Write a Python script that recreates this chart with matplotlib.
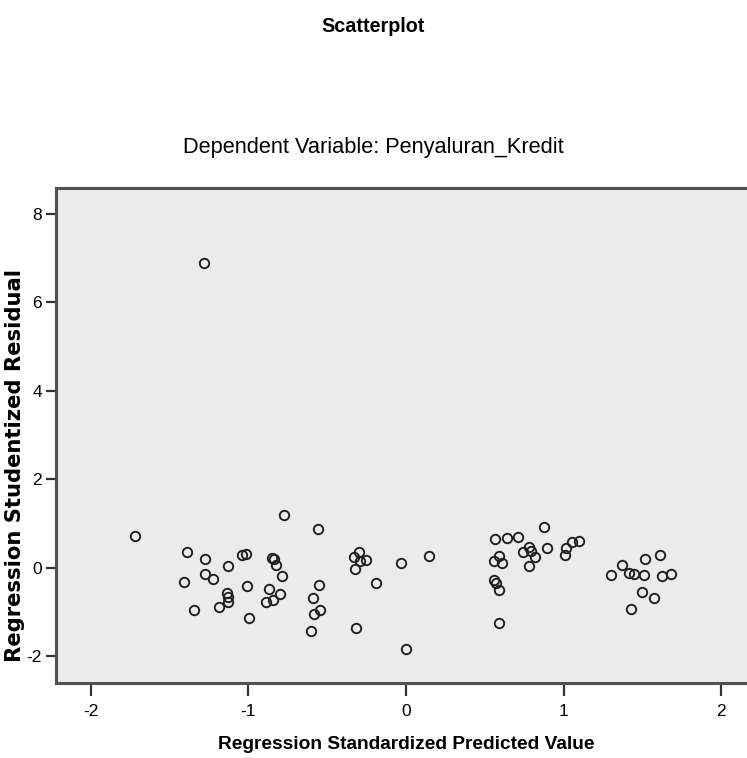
import matplotlib
matplotlib.use('Agg')
import matplotlib.pyplot as plt

# regression standardized predicted value vs studentized residual
pred = [-1.718, -1.284, -0.772, -0.561, -1.386, -1.275, -1.129, -1.043, -1.013, -0.850,
        -0.840, -0.823, -0.787, -1.405, -1.272, -1.223, -1.011, -1.136, -1.129, -1.128,
        -0.867, -0.800, -0.888, -0.842, -1.343, -1.187, -0.999, -0.593, -0.552, -0.582,
        -0.548, -0.601, -0.301, -0.332, -0.256, -0.322, -0.290, -0.034, 0.143, -0.190,
        -0.315, 0.000, 0.565, 0.638, 0.708, 0.782, 0.740, 0.795, 0.820, 0.778,
        0.592, 0.560, 0.607, 0.556, 0.573, 0.588, 0.590, 0.878, 0.895, 1.015,
        1.011, 1.051, 1.095, 1.301, 1.371, 1.417, 1.444, 1.514, 1.512, 1.614,
        1.626, 1.679, 1.499, 1.571, 1.425]
resid = [0.72, 6.88, 1.20, 0.88, 0.35, 0.19, 0.05, 0.30, 0.32, 0.23,
         0.20, 0.06, -0.19, -0.31, -0.14, -0.25, -0.41, -0.56, -0.66, -0.76,
         -0.47, -0.59, -0.77, -0.72, -0.96, -0.88, -1.13, -0.67, -0.39, -1.05,
         -0.95, -1.42, 0.35, 0.24, 0.18, -0.02, 0.16, 0.11, 0.26, -0.34,
         -1.35, -1.84, 0.65, 0.68, 0.70, 0.48, 0.36, 0.39, 0.25, 0.04,
         0.27, 0.16, 0.11, -0.27, -0.35, -0.50, -1.24, 0.92, 0.44, 0.44,
         0.28, 0.59, 0.61, -0.15, 0.07, -0.11, -0.13, 0.20, -0.15, 0.30,
         -0.18, -0.14, -0.55, -0.68, -0.93]

xticks = [-2, -1, 0, 1, 2]
yticks = [-2, 0, 2, 4, 6, 8]

sans = ['Liberation Sans', 'DejaVu Sans']

fig = plt.figure(figsize=(7.47, 7.58), dpi=100)
ax = fig.add_axes([56 / 747, 1 - 683 / 758, 700 / 747, 495 / 758])
ax.set_facecolor('#ebebeb')

ax.plot(pred, resid, linestyle='none', marker='o', markersize=6.8,
        markerfacecolor='none', markeredgecolor='#1e1e1e', markeredgewidth=1.35)

ax.set_xlim(-2.22, 2.22)
ax.set_ylim(-2.6, 8.58)
ax.set_xticks(xticks)
ax.set_yticks(yticks)
ax.set_xticklabels([str(t) for t in xticks], family=sans, fontsize=12.5)
ax.set_yticklabels([str(t) for t in yticks], family=sans, fontsize=12.5)
ax.tick_params(axis='both', direction='out', length=7, width=1.6, color='#333333', pad=3)
ax.tick_params(axis='x', length=9, pad=6)

for side in ['top', 'left', 'bottom']:
    ax.spines[side].set_linewidth(2.2)
    ax.spines[side].set_color('#505050')
ax.spines['right'].set_visible(False)
# lighter shade just under the top frame line
ax.axhline(8.58, color='#a0a0a0', linewidth=1.2, clip_on=False)

ax.set_xlabel('Regression Standardized Predicted Value', family=sans,
              fontsize=13.8, fontweight='bold')
ax.xaxis.set_label_coords(0.5, -0.125)
ax.xaxis.label.set_va('center')
ax.set_ylabel('Regression Studentized Residual', fontsize=15.2, fontweight='bold')
ax.yaxis.set_label_coords(-0.058, 0.44)
ax.yaxis.label.set_va('center')

fig.text(0.5, 1 - 27 / 758, 'Scatterplot', family=sans, fontsize=14.2,
         fontweight='bold', ha='center', va='center')
fig.text(0.5, 1 - 147 / 758, 'Dependent Variable: Penyaluran_Kredit', family=sans,
         fontsize=15.7, ha='center', va='center')

fig.savefig('out.png', dpi=100)
